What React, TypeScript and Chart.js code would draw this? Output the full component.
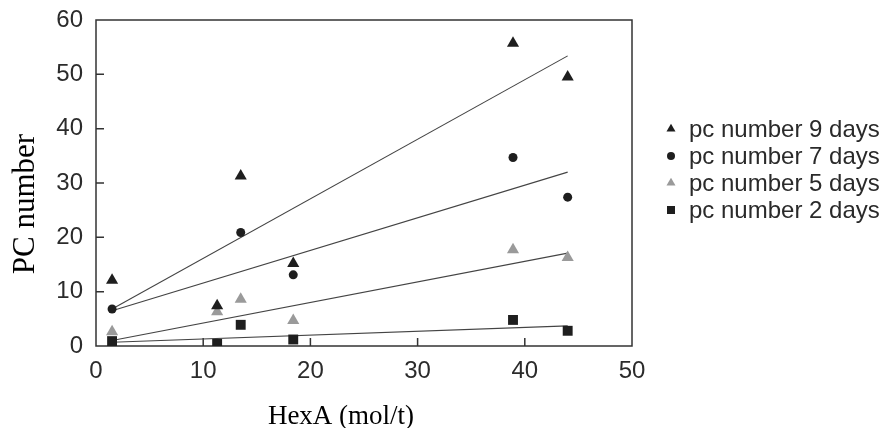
import React, { useEffect, useRef } from "react";
import { Chart, registerables } from "chart.js";

Chart.register(...registerables);

// ---- data ----
const hexA = [1.5, 11.3, 13.5, 18.4, 38.9, 44.0];
const pc9days = [12.1, 7.4, 31.3, 15.2, 55.7, 49.5];
const pc7days = [6.8, null, 20.9, 13.1, 34.7, 27.4];
const pc5days = [2.6, 6.3, 8.6, 4.7, 17.7, 16.3];
const pc2days = [0.9, 0.4, 3.9, 1.2, 4.8, 2.8];

const seriesLabels = ["pc number 9 days", "pc number 7 days", "pc number 5 days", "pc number 2 days"];

// trend lines: [x start, x end], y values at those x
const trendX = [1.5, 44.0];
const trend9 = [6.8, 53.4];
const trend7 = [6.5, 32.0];
const trend5 = [1.0, 17.1];
const trend2 = [0.7, 3.7];

const xTicks = [0, 10, 20, 30, 40, 50];
const yTicks = [0, 10, 20, 30, 40, 50, 60];

const xTitle = "HexA (mol/t)";
const yTitle = "PC number";

const BLACK = "#1e1e1e";
const GRAY = "#9a9a9a";
const AXIS = "#333333";
const SANS = "'Liberation Sans', Arial, sans-serif";
const SERIF = "'Liberation Serif', 'Times New Roman', serif";

const toPoints = (ys: (number | null)[]) =>
  hexA.map((x, i) => ({ x, y: ys[i] })).filter((p) => p.y !== null);
const toLine = (ys: number[]) => trendX.map((x, i) => ({ x, y: ys[i] }));

const styles = [
  { color: BLACK, shape: "triangle", radius: 7 },
  { color: BLACK, shape: "circle", radius: 4.5 },
  { color: GRAY, shape: "triangle", radius: 7 },
  { color: BLACK, shape: "rect", radius: 7 },
];

function drawMarker(ctx: CanvasRenderingContext2D, shape: string, x: number, y: number, color: string) {
  ctx.save();
  ctx.fillStyle = color;
  ctx.beginPath();
  if (shape === "circle") {
    ctx.arc(x, y, 4, 0, Math.PI * 2);
  } else if (shape === "triangle") {
    const r = 5.2;
    ctx.moveTo(x, y - r);
    ctx.lineTo(x + r * Math.sin(Math.PI / 3), y + r / 2);
    ctx.lineTo(x - r * Math.sin(Math.PI / 3), y + r / 2);
    ctx.closePath();
  } else {
    ctx.rect(x - 4, y - 4, 8, 8);
  }
  ctx.fill();
  ctx.restore();
}

const framePlugin = {
  id: "frame",
  beforeDatasetsDraw(chart: any) {
    const { ctx, chartArea, scales } = chart;
    const { left, right, top, bottom } = chartArea;
    ctx.save();
    ctx.strokeStyle = AXIS;
    ctx.lineWidth = 1.5;
    ctx.strokeRect(left, top, right - left, bottom - top);
    ctx.beginPath();
    for (const v of xTicks) {
      const px = scales.x.getPixelForValue(v);
      if (px <= left + 1 || px >= right - 1) continue;
      ctx.moveTo(px, bottom);
      ctx.lineTo(px, bottom - 8);
    }
    for (const v of yTicks) {
      const py = scales.y.getPixelForValue(v);
      if (py <= top + 1 || py >= bottom - 1) continue;
      ctx.moveTo(left, py);
      ctx.lineTo(left + 8, py);
    }
    ctx.stroke();
    ctx.restore();
  },
  afterDraw(chart: any) {
    const { ctx } = chart;
    ctx.save();
    // axis titles
    ctx.fillStyle = "#000";
    ctx.font = `27px ${SERIF}`;
    ctx.textAlign = "center";
    ctx.textBaseline = "alphabetic";
    ctx.fillText(xTitle, 341, 424);
    ctx.save();
    ctx.font = `31px ${SERIF}`;
    ctx.translate(34, 204);
    ctx.rotate(-Math.PI / 2);
    ctx.fillText(yTitle, 0, 0);
    ctx.restore();

    // legend
    ctx.font = `24px ${SANS}`;
    ctx.textAlign = "left";
    ctx.textBaseline = "middle";
    const rows = [129, 156, 183, 210];
    seriesLabels.forEach((label, i) => {
      const s = styles[i];
      drawMarker(ctx, s.shape, 671, rows[i], s.color);
      ctx.fillStyle = "#2a2a2a";
      ctx.fillText(label, 689, rows[i] + 1);
    });
    ctx.restore();
  },
};

export default function App() {
  const ref = useRef<HTMLCanvasElement>(null);

  useEffect(() => {
    if (!ref.current) return;
    const scatterSets = [pc9days, pc7days, pc5days, pc2days].map((ys, i) => ({
      type: "scatter" as const,
      label: seriesLabels[i],
      data: toPoints(ys),
      pointStyle: styles[i].shape,
      pointRadius: styles[i].radius,
      pointBackgroundColor: styles[i].color,
      pointBorderColor: styles[i].color,
      pointBorderWidth: 0,
      showLine: false,
      order: i,
    }));
    const lineSets = [trend9, trend7, trend5, trend2].map((ys, i) => ({
      type: "line" as const,
      label: "trend " + i,
      data: toLine(ys),
      borderColor: "#444444",
      borderWidth: 1.1,
      pointRadius: 0,
      fill: false,
      order: 10 + i,
    }));

    const chart = new Chart(ref.current, {
      type: "scatter",
      data: { datasets: [...scatterSets, ...lineSets] as any },
      options: {
        responsive: false,
        animation: false,
        devicePixelRatio: 1,
        layout: { padding: { left: 0, top: 20, right: 256, bottom: 0 } },
        plugins: { legend: { display: false }, tooltip: { enabled: false } },
        scales: {
          x: {
            type: "linear",
            min: 0,
            max: 50,
            afterBuildTicks: (scale: any) => {
              scale.ticks = xTicks.map((v) => ({ value: v }));
            },
            ticks: { font: { family: SANS, size: 24 }, color: "#2b2b2b", padding: 11, maxRotation: 0 },
            grid: { display: false, drawTicks: false },
            border: { display: false },
            afterFit: (scale: any) => {
              scale.height = 82;
              scale.paddingLeft = 0;
              scale.paddingRight = 0;
            },
          },
          y: {
            type: "linear",
            min: 0,
            max: 60,
            afterBuildTicks: (scale: any) => {
              scale.ticks = yTicks.map((v) => ({ value: v }));
            },
            ticks: { font: { family: SANS, size: 24 }, color: "#2b2b2b", padding: 13 },
            grid: { display: false, drawTicks: false },
            border: { display: false },
            afterFit: (scale: any) => {
              scale.width = 96;
              scale.paddingTop = 0;
              scale.paddingBottom = 0;
            },
          },
        },
      },
      plugins: [framePlugin],
    });
    return () => chart.destroy();
  }, []);

  return (
    <div style={{ position: "fixed", left: 0, top: 0, width: 888, height: 428, background: "#fff" }}>
      <canvas ref={ref} width={888} height={428} style={{ width: 888, height: 428 }} />
    </div>
  );
}
